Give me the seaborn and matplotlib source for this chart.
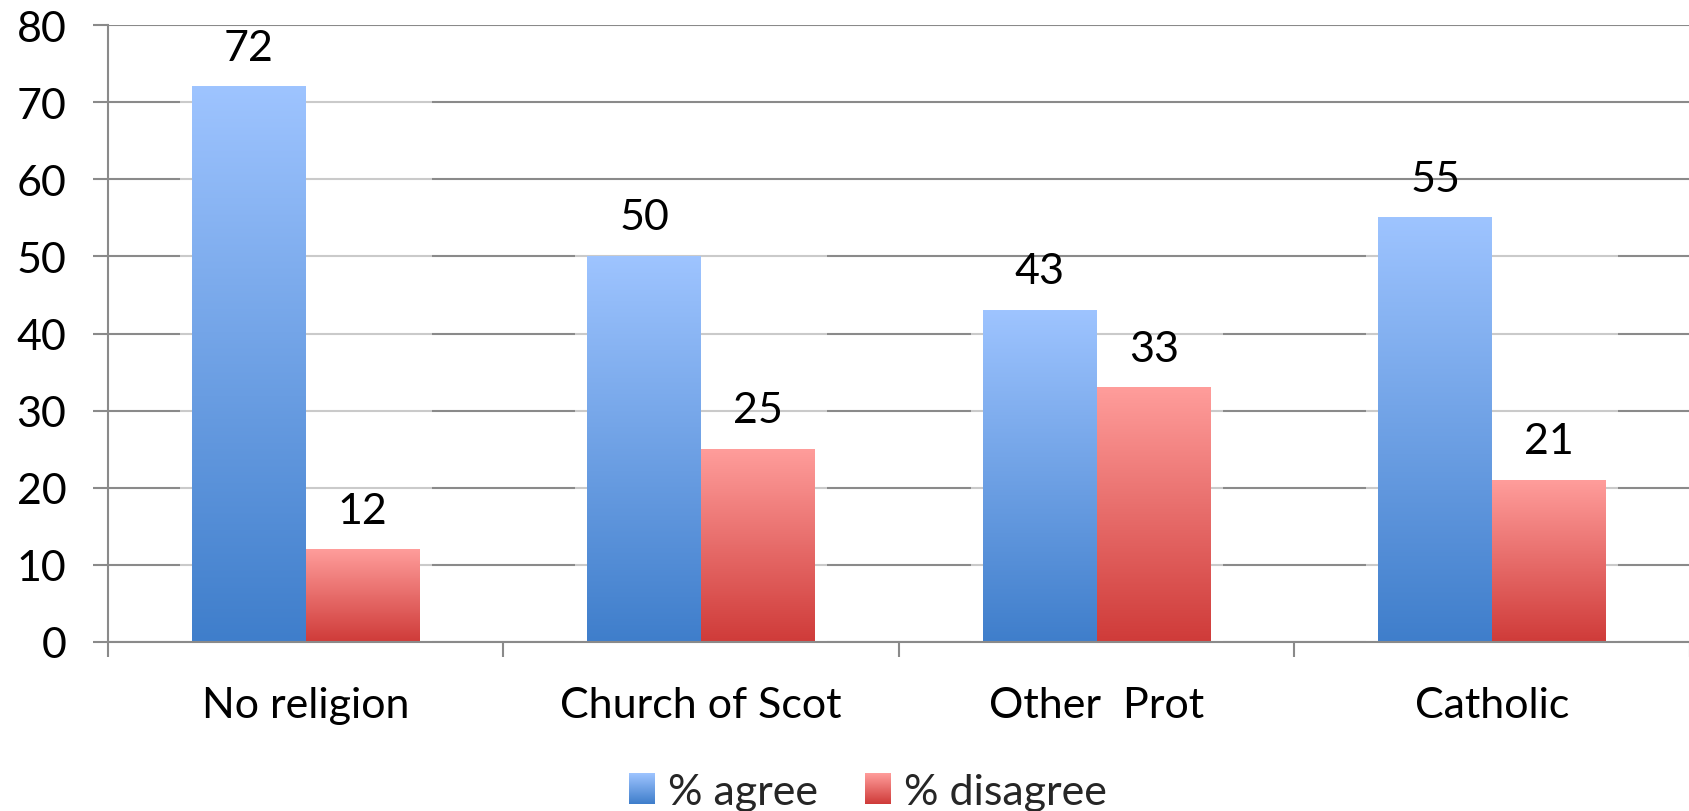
import numpy as np
import pandas as pd
import matplotlib
matplotlib.use("Agg")
import matplotlib.pyplot as plt
import seaborn as sns
from matplotlib.patches import Rectangle, Patch
from matplotlib.legend_handler import HandlerBase
from matplotlib.image import BboxImage
from matplotlib.transforms import Bbox, TransformedBbox
from matplotlib.colors import to_rgb

# Survey results by religious group
categories = ["No religion", "Church of Scot", "Other  Prot", "Catholic"]
agree = [72, 50, 43, 55]
disagree = [12, 25, 33, 21]
series_names = ["% agree", "% disagree"]
y_ticks = [0, 10, 20, 30, 40, 50, 60, 70, 80]

# Vertical gradients (top colour, bottom colour) for each series
gradients = {
    "% agree": ("#9EC4FF", "#3F7ECB"),
    "% disagree": ("#FF9D9B", "#CF3B39"),
}

FS = 31

df = pd.DataFrame({
    "category": categories * 2,
    "series": [series_names[0]] * len(categories) + [series_names[1]] * len(categories),
    "value": agree + disagree,
})

sns.set_style("white")
plt.rcParams["font.family"] = ["Lato", "DejaVu Sans"]

fig = plt.figure(figsize=(16.9, 8.12), dpi=100)
ax = fig.add_axes([108 / 1690, (812 - 643) / 812, (1690 - 108) / 1690, (643 - 26) / 812])

palette = {k: v[1] for k, v in gradients.items()}
sns.barplot(data=df, x="category", y="value", hue="series", hue_order=series_names,
            order=categories, palette=palette, width=0.576, ax=ax, legend=False,
            errorbar=None, saturation=1)


def vgrad(top, bottom, n=256):
    t = np.linspace(0, 1, n)[:, None]
    c0 = np.array(to_rgb(top))
    c1 = np.array(to_rgb(bottom))
    return (c0 * (1 - t) + c1 * t)[:, None, :]


# Replace flat fills with vertical gradients
group_extent = {}
for name, container in zip(series_names, ax.containers):
    top, bottom = gradients[name]
    img = vgrad(top, bottom)
    for i, bar in enumerate(container.patches):
        x0, w, h = bar.get_x(), bar.get_width(), bar.get_height()
        bar.set_alpha(0)
        ax.imshow(img, extent=[x0, x0 + w, 0, h], aspect="auto",
                  interpolation="bilinear", zorder=2, origin="upper")
        lo, hi, mx = group_extent.get(i, (np.inf, -np.inf, 0))
        group_extent[i] = (min(lo, x0), max(hi, x0 + w), max(mx, h))
        ax.annotate(f"{h:g}", xy=(x0 + w / 2, h), xytext=(0, 28),
                    textcoords="offset points", ha="center", va="center",
                    fontsize=FS, color="black", zorder=4)

# Soft halo behind each group of bars
for i, (lo, hi, mx) in group_extent.items():
    ax.add_patch(Rectangle((lo - 0.03, 0), hi - lo + 0.06, mx + 0.8,
                           facecolor="white", edgecolor="none", alpha=0.55, zorder=1))

ax.set_xlim(-0.5, len(categories) - 0.5)
ax.set_ylim(0, 80)
ax.set_yticks(y_ticks)
ax.yaxis.grid(True, color="#8A8A8A", linewidth=1.5)
ax.set_axisbelow(True)
ax.set_xlabel("")
ax.set_ylabel("")

for s in ["top", "right"]:
    ax.spines[s].set_visible(False)
for s in ["left", "bottom"]:
    ax.spines[s].set_color("#8A8A8A")
    ax.spines[s].set_linewidth(1.5)

ax.tick_params(axis="y", length=11, width=1.5, color="#8A8A8A", labelsize=FS,
               pad=19, left=True, labelcolor="black")
ax.set_xticks(range(len(categories)))
ax.set_xticklabels(categories)
ax.tick_params(axis="x", which="major", length=0, labelsize=FS, pad=32, labelcolor="black")
ax.set_xticks(np.arange(-0.5, len(categories), 1.0), minor=True)
ax.tick_params(axis="x", which="minor", length=11, width=1.5, color="#8A8A8A", bottom=True)


class GradientHandler(HandlerBase):
    def __init__(self, top, bottom):
        super().__init__()
        self.top, self.bottom = top, bottom

    def create_artists(self, legend, orig_handle, xdescent, ydescent, width, height,
                       fontsize, trans):
        bb = Bbox.from_bounds(-xdescent, -ydescent, width, height)
        im = BboxImage(TransformedBbox(bb, trans), interpolation="bilinear")
        im.set_data(vgrad(self.top, self.bottom, 64))
        return [im]


handles = [Patch(label=n) for n in series_names]
handler_map = {h: GradientHandler(*gradients[h.get_label()]) for h in handles}
fig.legend(handles=handles, labels=series_names, handler_map=handler_map,
           loc="center", bbox_to_anchor=(868 / 1690, 1 - 793 / 812), ncol=2,
           frameon=False, fontsize=FS, handlelength=0.6, handleheight=0.7,
           handletextpad=0.3, columnspacing=1.1)

fig.savefig("out.png", dpi=100, facecolor="white")
